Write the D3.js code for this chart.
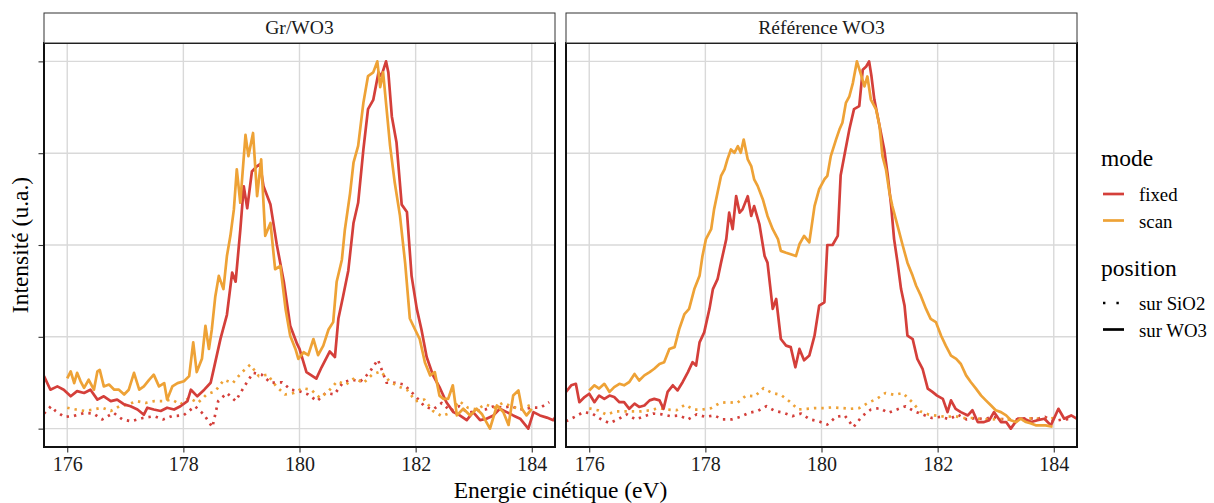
<!DOCTYPE html>
<html>
<head>
<meta charset="utf-8">
<script src="https://cdn.jsdelivr.net/npm/d3@7"></script>
<style>
  html, body { margin: 0; padding: 0; background: #fff; }
  svg { display: block; }
  svg text { font-family: "Liberation Serif", "DejaVu Serif", serif; }
</style>
</head>
<body>
<svg id="chart" width="1214" height="503"></svg>
<script>
// ---------------- data ----------------
const panelNames = ["Gr/WO3", "Référence WO3"];
const modeNames = ["fixed", "scan"];
const positionNames = ["sur SiO2", "sur WO3"];
const energyTicks = [176, 178, 180, 182, 184];
const intensityTicks = [0, 0.25, 0.5, 0.75, 1];

// Gr/WO3 panel : [energy (eV), normalised intensity]
const grFixedWO3 = [[175.6,0.143],[175.71,0.106],[175.83,0.115],[175.94,0.106],[176.06,0.088],[176.17,0.102],[176.29,0.097],[176.4,0.106],[176.52,0.079],[176.63,0.088],[176.75,0.075],[176.86,0.079],[176.98,0.066],[177.09,0.061],[177.21,0.052],[177.32,0.038],[177.38,0.057],[177.49,0.052],[177.61,0.048],[177.72,0.057],[177.84,0.052],[177.95,0.061],[178.07,0.075],[178.13,0.106],[178.24,0.088],[178.36,0.106],[178.47,0.125],[178.52,0.16],[178.64,0.245],[178.75,0.31],[178.84,0.425],[178.9,0.40],[178.98,0.54],[179.04,0.66],[179.1,0.60],[179.18,0.70],[179.27,0.715],[179.32,0.72],[179.38,0.66],[179.5,0.61],[179.61,0.50],[179.73,0.40],[179.84,0.28],[179.96,0.23],[180.0,0.217],[180.12,0.154],[180.29,0.136],[180.38,0.167],[180.52,0.21],[180.61,0.195],[180.67,0.30],[180.75,0.36],[180.84,0.43],[180.93,0.56],[181.01,0.615],[181.1,0.76],[181.18,0.87],[181.27,0.895],[181.36,0.97],[181.41,0.96],[181.49,1.0],[181.53,0.97],[181.59,0.85],[181.67,0.78],[181.76,0.61],[181.85,0.59],[181.93,0.416],[182.02,0.326],[182.1,0.27],[182.19,0.195],[182.3,0.145],[182.42,0.11],[182.53,0.072],[182.65,0.045],[182.76,0.036],[182.88,0.023],[182.99,0.045],[183.11,0.023],[183.22,0.027],[183.34,0.036],[183.45,0.054],[183.57,0.045],[183.68,0.036],[183.8,0.027],[183.94,0.0],[184.03,0.045],[184.14,0.036],[184.26,0.03],[184.37,0.023],[184.4,0.03]];
const grScanWO3 = [[176.0,0.137],[176.06,0.156],[176.12,0.124],[176.17,0.152],[176.23,0.129],[176.29,0.111],[176.37,0.133],[176.46,0.106],[176.52,0.156],[176.56,0.16],[176.63,0.115],[176.72,0.12],[176.81,0.106],[176.89,0.106],[176.98,0.093],[177.06,0.106],[177.15,0.152],[177.24,0.106],[177.32,0.115],[177.41,0.133],[177.49,0.147],[177.58,0.115],[177.67,0.124],[177.72,0.079],[177.81,0.115],[177.9,0.124],[178.01,0.129],[178.1,0.143],[178.17,0.235],[178.23,0.154],[178.32,0.19],[178.38,0.28],[178.44,0.217],[178.49,0.27],[178.55,0.36],[178.61,0.416],[178.69,0.38],[178.75,0.47],[178.81,0.525],[178.87,0.597],[178.92,0.706],[178.98,0.615],[179.07,0.80],[179.12,0.742],[179.2,0.805],[179.27,0.633],[179.34,0.733],[179.41,0.525],[179.5,0.56],[179.58,0.434],[179.67,0.443],[179.76,0.326],[179.84,0.253],[179.93,0.217],[179.98,0.19],[180.07,0.208],[180.15,0.2],[180.24,0.244],[180.32,0.2],[180.41,0.226],[180.5,0.27],[180.58,0.29],[180.64,0.40],[180.73,0.46],[180.78,0.54],[180.87,0.64],[180.93,0.724],[181.01,0.77],[181.1,0.887],[181.18,0.96],[181.27,0.97],[181.34,1.0],[181.39,0.93],[181.44,0.97],[181.5,0.87],[181.56,0.77],[181.64,0.67],[181.73,0.58],[181.82,0.45],[181.9,0.30],[181.99,0.27],[182.07,0.244],[182.16,0.18],[182.25,0.145],[182.33,0.154],[182.41,0.09],[182.48,0.081],[182.56,0.081],[182.64,0.118],[182.71,0.036],[182.82,0.054],[182.94,0.036],[183.05,0.054],[183.14,0.04],[183.28,0.0],[183.4,0.063],[183.51,0.045],[183.6,0.01],[183.68,0.09],[183.77,0.104],[183.83,0.054],[183.91,0.036],[184.0,0.054]];
const grFixedSiO2 = [[175.6,0.041],[175.72,0.061],[175.8,0.048],[175.95,0.032],[176.1,0.034],[176.3,0.043],[176.45,0.041],[176.6,0.025],[176.8,0.043],[176.95,0.025],[177.1,0.020],[177.3,0.029],[177.5,0.034],[177.65,0.025],[177.8,0.034],[178.0,0.036],[178.2,0.061],[178.35,0.039],[178.5,0.004],[178.6,0.075],[178.75,0.097],[178.9,0.075],[179.05,0.115],[179.2,0.152],[179.35,0.147],[179.5,0.125],[179.7,0.126],[179.85,0.106],[180.0,0.102],[180.15,0.093],[180.3,0.075],[180.45,0.097],[180.6,0.093],[180.75,0.126],[180.9,0.133],[181.05,0.129],[181.2,0.152],[181.35,0.188],[181.5,0.125],[181.65,0.125],[181.8,0.120],[182.0,0.088],[182.15,0.061],[182.3,0.052],[182.45,0.07],[182.6,0.048],[182.75,0.061],[182.9,0.043],[183.05,0.048],[183.2,0.052],[183.35,0.061],[183.5,0.057],[183.65,0.061],[183.8,0.052],[184.0,0.057],[184.15,0.057],[184.3,0.072]];
const grScanSiO2 = [[176.0,0.057],[176.15,0.052],[176.3,0.048],[176.45,0.052],[176.6,0.057],[176.75,0.048],[176.9,0.061],[177.05,0.066],[177.2,0.075],[177.35,0.07],[177.5,0.075],[177.65,0.075],[177.8,0.079],[177.95,0.066],[178.1,0.084],[178.25,0.07],[178.4,0.093],[178.55,0.102],[178.7,0.133],[178.85,0.124],[179.0,0.152],[179.15,0.174],[179.3,0.143],[179.45,0.147],[179.6,0.115],[179.75,0.093],[179.9,0.097],[180.05,0.11],[180.2,0.106],[180.35,0.084],[180.5,0.102],[180.65,0.129],[180.8,0.12],[180.95,0.138],[181.1,0.124],[181.25,0.147],[181.4,0.156],[181.55,0.129],[181.7,0.115],[181.85,0.106],[182.0,0.075],[182.15,0.079],[182.3,0.048],[182.45,0.034],[182.6,0.043],[182.75,0.075],[182.9,0.057],[183.05,0.052],[183.2,0.066],[183.35,0.057],[183.5,0.07],[183.65,0.061],[183.8,0.052],[184.0,0.066]];

// Référence WO3 panel
const refFixedWO3 = [[175.6,0.10],[175.69,0.118],[175.77,0.122],[175.83,0.072],[175.92,0.086],[176.0,0.095],[176.09,0.072],[176.17,0.09],[176.26,0.081],[176.35,0.09],[176.43,0.086],[176.52,0.072],[176.6,0.072],[176.69,0.054],[176.78,0.068],[176.86,0.059],[176.95,0.063],[177.04,0.077],[177.12,0.081],[177.21,0.077],[177.28,0.054],[177.35,0.10],[177.44,0.118],[177.52,0.104],[177.61,0.127],[177.7,0.154],[177.78,0.181],[177.84,0.172],[177.9,0.235],[177.98,0.262],[178.07,0.326],[178.13,0.38],[178.21,0.407],[178.27,0.452],[178.36,0.516],[178.41,0.588],[178.47,0.543],[178.53,0.633],[178.59,0.588],[178.64,0.597],[178.73,0.633],[178.79,0.579],[178.84,0.606],[178.93,0.557],[179.02,0.47],[179.07,0.452],[179.16,0.326],[179.22,0.353],[179.3,0.244],[179.39,0.226],[179.47,0.222],[179.55,0.167],[179.62,0.217],[179.7,0.186],[179.79,0.199],[179.88,0.253],[179.96,0.335],[180.05,0.344],[180.1,0.50],[180.19,0.50],[180.28,0.525],[180.33,0.69],[180.39,0.74],[180.48,0.815],[180.56,0.87],[180.65,0.878],[180.71,0.977],[180.77,0.986],[180.82,1.0],[180.86,0.96],[180.91,0.896],[181.0,0.824],[181.08,0.76],[181.14,0.69],[181.2,0.606],[181.25,0.516],[181.31,0.452],[181.37,0.38],[181.43,0.335],[181.48,0.253],[181.57,0.244],[181.65,0.19],[181.74,0.163],[181.83,0.109],[181.91,0.10],[181.99,0.09],[182.09,0.081],[182.17,0.045],[182.23,0.077],[182.31,0.054],[182.4,0.045],[182.52,0.036],[182.6,0.05],[182.69,0.018],[182.8,0.018],[182.89,0.023],[182.97,0.045],[183.09,0.018],[183.18,0.018],[183.26,0.0],[183.38,0.027],[183.49,0.027],[183.61,0.018],[183.72,0.023],[183.84,0.027],[183.95,0.009],[184.08,0.054],[184.18,0.027],[184.3,0.036],[184.4,0.027]];
const refScanWO3 = [[176.0,0.104],[176.09,0.118],[176.17,0.109],[176.26,0.122],[176.35,0.10],[176.43,0.113],[176.52,0.122],[176.6,0.118],[176.69,0.127],[176.78,0.149],[176.86,0.131],[176.95,0.145],[177.04,0.154],[177.12,0.163],[177.21,0.176],[177.29,0.181],[177.38,0.217],[177.47,0.222],[177.55,0.271],[177.64,0.312],[177.72,0.326],[177.81,0.38],[177.9,0.416],[177.95,0.47],[178.01,0.516],[178.1,0.543],[178.15,0.597],[178.21,0.643],[178.27,0.688],[178.33,0.706],[178.38,0.733],[178.44,0.76],[178.5,0.751],[178.56,0.769],[178.61,0.751],[178.66,0.787],[178.73,0.733],[178.79,0.715],[178.84,0.679],[178.9,0.661],[178.99,0.624],[179.07,0.579],[179.16,0.543],[179.25,0.516],[179.3,0.484],[179.39,0.479],[179.47,0.475],[179.56,0.47],[179.62,0.502],[179.7,0.525],[179.79,0.507],[179.88,0.606],[179.96,0.652],[180.05,0.679],[180.1,0.688],[180.16,0.742],[180.25,0.787],[180.31,0.815],[180.36,0.833],[180.42,0.887],[180.48,0.905],[180.54,0.941],[180.61,1.0],[180.68,0.964],[180.74,0.932],[180.79,0.959],[180.85,0.896],[180.94,0.869],[181.0,0.824],[181.05,0.742],[181.11,0.706],[181.17,0.643],[181.22,0.606],[181.31,0.552],[181.4,0.498],[181.48,0.452],[181.57,0.416],[181.63,0.389],[181.71,0.362],[181.8,0.326],[181.88,0.299],[181.97,0.29],[182.06,0.253],[182.14,0.226],[182.23,0.199],[182.32,0.19],[182.4,0.176],[182.49,0.145],[182.57,0.127],[182.66,0.109],[182.75,0.09],[182.83,0.077],[182.92,0.063],[183.0,0.05],[183.09,0.045],[183.18,0.036],[183.26,0.023],[183.35,0.018],[183.43,0.027],[183.52,0.018],[183.61,0.014],[183.69,0.009],[183.78,0.009],[183.86,0.009],[183.98,0.005]];
const refFixedSiO2 = [[175.6,0.02],[175.75,0.032],[175.9,0.045],[176.05,0.041],[176.2,0.026],[176.35,0.015],[176.5,0.026],[176.65,0.039],[176.8,0.025],[176.95,0.034],[177.1,0.041],[177.25,0.039],[177.4,0.034],[177.55,0.036],[177.7,0.025],[177.85,0.039],[178.0,0.032],[178.15,0.036],[178.3,0.025],[178.45,0.025],[178.6,0.032],[178.75,0.043],[178.9,0.048],[179.05,0.061],[179.2,0.048],[179.35,0.043],[179.5,0.034],[179.65,0.041],[179.8,0.025],[179.95,0.02],[180.1,0.011],[180.25,0.032],[180.4,0.036],[180.55,0.004],[180.7,0.034],[180.85,0.052],[181.0,0.056],[181.15,0.043],[181.3,0.052],[181.45,0.061],[181.6,0.047],[181.75,0.038],[181.9,0.029],[182.05,0.032],[182.2,0.026],[182.35,0.038],[182.5,0.025],[182.65,0.029],[182.8,0.026],[182.95,0.032],[183.1,0.026],[183.25,0.025],[183.4,0.025],[183.55,0.029],[183.7,0.026],[183.85,0.032],[184.0,0.02],[184.15,0.025],[184.3,0.026]];
const refScanSiO2 = [[176.0,0.055],[176.15,0.05],[176.3,0.038],[176.45,0.047],[176.6,0.047],[176.75,0.047],[176.9,0.047],[177.05,0.05],[177.2,0.056],[177.35,0.052],[177.5,0.05],[177.65,0.065],[177.8,0.052],[177.95,0.052],[178.1,0.056],[178.25,0.07],[178.4,0.072],[178.55,0.07],[178.7,0.09],[178.85,0.088],[179.0,0.11],[179.15,0.097],[179.3,0.092],[179.45,0.074],[179.6,0.052],[179.75,0.054],[179.9,0.056],[180.05,0.056],[180.2,0.058],[180.35,0.056],[180.5,0.054],[180.65,0.056],[180.8,0.07],[180.95,0.081],[181.1,0.097],[181.25,0.092],[181.4,0.097],[181.55,0.074],[181.7,0.047],[181.85,0.038],[182.0,0.035],[182.15,0.032],[182.3,0.034],[182.45,0.029],[182.6,0.029],[182.75,0.026],[182.9,0.025],[183.05,0.026],[183.2,0.025],[183.35,0.020],[183.5,0.025],[183.65,0.029],[183.8,0.025],[184.0,0.029]];

const modeColors = ["#D43F3A", "#EEA236"];

// ---------------- layout ----------------
const FONT = "Liberation Serif, DejaVu Serif, serif";
const svg = d3.select("#chart");
const panelTop = 43, panelH = 404, panelW = 511, stripH = 30;
const panelX = [44, 566];

const x = d3.scaleLinear().domain([175.6, 184.4]).range([0, panelW]);
const y = d3.scaleLinear().domain([-0.05, 1.05]).range([panelH, 0]);
const line = d3.line().x(d => x(d[0])).y(d => y(d[1]));

const panelSeries = [
  [ {data: grFixedSiO2, mode: 0, pos: 0}, {data: grScanSiO2, mode: 1, pos: 0},
    {data: grFixedWO3, mode: 0, pos: 1}, {data: grScanWO3, mode: 1, pos: 1} ],
  [ {data: refFixedSiO2, mode: 0, pos: 0}, {data: refScanSiO2, mode: 1, pos: 0},
    {data: refFixedWO3, mode: 0, pos: 1}, {data: refScanWO3, mode: 1, pos: 1} ]
];

const defs = svg.append("defs");
panelNames.forEach((name, i) => {
  defs.append("clipPath").attr("id", "clip" + i)
    .append("rect").attr("width", panelW).attr("height", panelH);

  const g = svg.append("g").attr("transform", `translate(${panelX[i]},${panelTop})`);
  g.append("rect").attr("width", panelW).attr("height", panelH).attr("fill", "#fff");

  // grid
  g.append("g").selectAll("line").data(energyTicks).join("line")
    .attr("x1", d => x(d)).attr("x2", d => x(d)).attr("y1", 0).attr("y2", panelH)
    .attr("stroke", "#d9d9d9").attr("stroke-width", 1.4);
  g.append("g").selectAll("line").data(intensityTicks).join("line")
    .attr("y1", d => y(d)).attr("y2", d => y(d)).attr("x1", 0).attr("x2", panelW)
    .attr("stroke", "#d9d9d9").attr("stroke-width", 1.4);

  // data
  const dg = g.append("g").attr("clip-path", `url(#clip${i})`);
  panelSeries[i].forEach(s => {
    dg.append("path").datum(s.data)
      .attr("d", line)
      .attr("fill", "none")
      .attr("stroke", modeColors[s.mode])
      .attr("stroke-width", 2.7)
      .attr("stroke-linejoin", "round")
      .attr("stroke-dasharray", s.pos === 0 ? "2.4,5" : null);
  });

  // border
  g.append("rect").attr("width", panelW).attr("height", panelH)
    .attr("fill", "none").attr("stroke", "#111").attr("stroke-width", 2);

  // strip
  svg.append("rect").attr("x", panelX[i]).attr("y", panelTop - stripH)
    .attr("width", panelW).attr("height", stripH)
    .attr("fill", "#fff").attr("stroke", "#333").attr("stroke-width", 1);
  svg.append("text").attr("x", panelX[i] + panelW / 2).attr("y", panelTop - 9)
    .attr("text-anchor", "middle").attr("font-size", 19.6).attr("fill", "#1a1a1a")
    .attr("font-family", FONT)
    .text(name);

  // x axis
  const xAxis = d3.axisBottom(x).tickValues(energyTicks).tickSize(4.5).tickPadding(4).tickFormat(d3.format("d"));
  const ax = svg.append("g").attr("transform", `translate(${panelX[i]},${panelTop + panelH + 1})`).call(xAxis)
    .attr("font-family", FONT).attr("font-size", 20);
  ax.select(".domain").remove();
  ax.selectAll(".tick line").attr("stroke", "#333").attr("stroke-width", 1.1);
  ax.selectAll(".tick text").attr("fill", "#1a1a1a");

  if (i === 0) {
    const yAxis = d3.axisLeft(y).tickValues(intensityTicks).tickSize(4.5).tickFormat("");
    const ay = svg.append("g").attr("transform", `translate(${panelX[i] - 1},${panelTop})`).call(yAxis);
    ay.select(".domain").remove();
    ay.selectAll(".tick line").attr("stroke", "#333").attr("stroke-width", 1.1);
  }
});

// axis titles
svg.append("text").attr("x", (panelX[0] + panelX[1] + panelW) / 2).attr("y", 498)
  .attr("text-anchor", "middle").attr("font-size", 23.5).attr("fill", "#000")
  .attr("font-family", FONT)
  .text("Energie cinétique (eV)");
svg.append("text").attr("transform", `translate(28,${panelTop + panelH / 2}) rotate(-90)`)
  .attr("text-anchor", "middle").attr("font-size", 23.5).attr("fill", "#000")
  .attr("font-family", FONT)
  .text("Intensité (u.a.)");

// legend
const lg = svg.append("g").attr("transform", "translate(1101,0)").attr("font-family", FONT);
lg.append("text").attr("x", 0).attr("y", 166).attr("font-size", 23.5).text("mode");
modeNames.forEach((m, k) => {
  const cy = 194 + k * 26.5;
  lg.append("line").attr("x1", 2).attr("x2", 23).attr("y1", cy).attr("y2", cy)
    .attr("stroke", modeColors[k]).attr("stroke-width", 2.7);
  lg.append("text").attr("x", 38).attr("y", cy + 7).attr("font-size", 18.8).text(m);
});
lg.append("text").attr("x", 0).attr("y", 276).attr("font-size", 23.5).text("position");
positionNames.forEach((p, k) => {
  const cy = 303 + k * 26.5;
  lg.append("line").attr("x1", 2).attr("x2", 23).attr("y1", cy).attr("y2", cy)
    .attr("stroke", "#000").attr("stroke-width", 2.7)
    .attr("stroke-dasharray", k === 0 ? "2.4,11" : null);
  lg.append("text").attr("x", 38).attr("y", cy + 7).attr("font-size", 18.8).text(p);
});
</script>
</body>
</html>
